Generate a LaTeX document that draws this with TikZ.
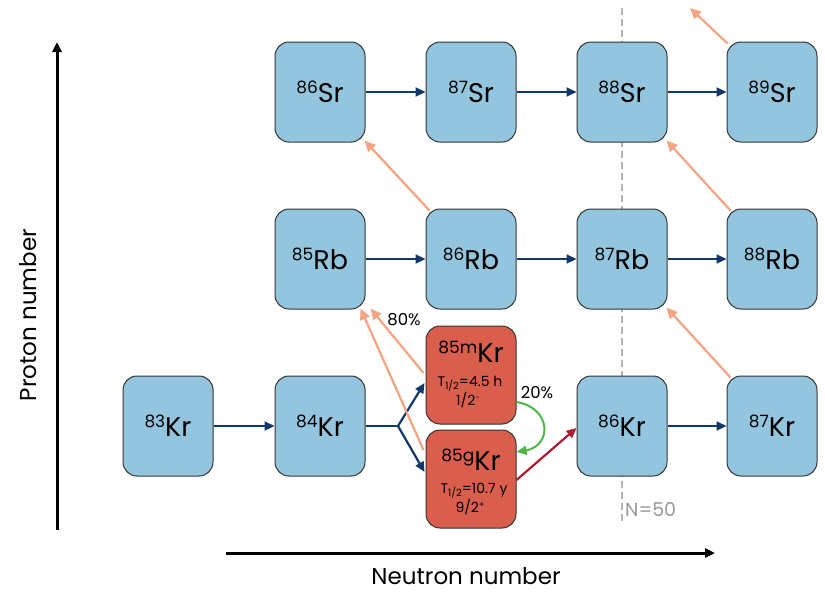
\documentclass[tikz,border=0pt]{standalone}
\usepackage{fontspec}
\setmainfont{Poppins}
\usetikzlibrary{arrows.meta,calc}
\definecolor{boxblue}{HTML}{93C6DE}
\definecolor{boxred}{HTML}{D95E4C}
\definecolor{navy}{HTML}{123769}
\definecolor{salmon}{HTML}{F4A482}
\definecolor{darkred}{HTML}{B01C2E}
\definecolor{grn}{HTML}{4DB848}
\definecolor{edge}{HTML}{333333}
\newcommand{\iso}[2]{{\fontsize{17}{17}\selectfont\raisebox{9pt}{#1}}#2}
\tikzset{
  nuc/.style={draw=edge, line width=1pt, rounded corners=14pt, minimum width=90pt, minimum height=100pt, fill=boxblue, inner sep=0pt, font=\fontsize{27}{29}\selectfont},
  redbox/.style={draw=edge, line width=1pt, rounded corners=14pt, minimum width=90pt, minimum height=98pt, fill=boxred, inner sep=0pt},
  ncap/.style={-{Triangle[length=10pt,width=9pt]}, navy, line width=2.2pt},
  beta/.style={-{Triangle[length=11pt,width=10pt]}, salmon, line width=2.2pt},
  lbl/.style={font=\fontsize{16.5}{18}\selectfont, inner sep=0pt},
  small/.style={font=\fontsize{14}{16}\selectfont, inner sep=0pt},
  axis/.style={-{Triangle[length=10pt,width=9pt]}, black, line width=3pt}
}
\begin{document}
\begin{tikzpicture}[x=1pt,y=-1pt]
\useasboundingbox (0,0) rectangle (825,592);
% N=50 line
\coordinate (ntop) at (622,8);
\coordinate (nbot) at (622,522);
\draw[gray!60, line width=1.2pt, dash pattern=on 7pt off 4pt] (ntop) -- (nbot);
\node[anchor=west, text=gray!80, font=\fontsize{19}{21}\selectfont, inner sep=0pt] (n50) at (625,510) {N=50};
% axes
\coordinate (pa) at (57,530);
\coordinate (pb) at (57,42);
\draw[axis] (pa) -- (pb);
\coordinate (na) at (226,553);
\coordinate (nb) at (715,553);
\draw[axis] (na) -- (nb);
\node[font=\fontsize{23}{25}\selectfont, rotate=90, inner sep=0pt] (plab) at (28,315) {Proton number};
\node[font=\fontsize{23}{25}\selectfont, inner sep=0pt] (nlab) at (466,576) {Neutron number};
% boxes
\node[nuc] (sr86) at (320,92) {\iso{86}{Sr}};
\node[nuc] (sr87) at (471,92) {\iso{87}{Sr}};
\node[nuc] (sr88) at (622,92) {\iso{88}{Sr}};
\node[nuc] (sr89) at (772,92) {\iso{89}{Sr}};
\node[nuc] (rb85) at (320,259) {\iso{85}{Rb}};
\node[nuc] (rb86) at (471,259) {\iso{86}{Rb}};
\node[nuc] (rb87) at (622,259) {\iso{87}{Rb}};
\node[nuc] (rb88) at (772,259) {\iso{88}{Rb}};
\node[nuc] (kr83) at (168,426) {\iso{83}{Kr}};
\node[nuc] (kr84) at (320,426) {\iso{84}{Kr}};
\node[nuc] (kr86) at (622,426) {\iso{86}{Kr}};
\node[nuc] (kr87) at (772,426) {\iso{87}{Kr}};
\node[redbox] (m85) at (471,375) {};
\node[redbox] (g85) at (471,479) {};
\node[inner sep=0pt, font=\fontsize{27}{29}\selectfont] (m85t) at (471,352) {\iso{85m}{Kr}};
\node[small] (m85h) at (470,384) {T\raisebox{-3pt}{\fontsize{10}{10}\selectfont 1/2}=4.5 h};
\node[small] (m85s) at (468,400) {1/2\raisebox{5pt}{\fontsize{8}{8}\selectfont -}};
\node[inner sep=0pt, font=\fontsize{27}{29}\selectfont] (g85t) at (471,460) {\iso{85g}{Kr}};
\node[small] (g85h) at (474,491) {T\raisebox{-3pt}{\fontsize{10}{10}\selectfont 1/2}=10.7 y};
\node[small] (g85s) at (470,507) {9/2\raisebox{5pt}{\fontsize{8}{8}\selectfont +}};
% neutron capture arrows
\draw[ncap] (sr86) -- (sr87);
\draw[ncap] (sr87) -- (sr88);
\draw[ncap] (sr88) -- (sr89);
\draw[ncap] (rb85) -- (rb86);
\draw[ncap] (rb86) -- (rb87);
\draw[ncap] (rb87) -- (rb88);
\draw[ncap] (kr83) -- (kr84);
\draw[ncap] (kr86) -- (kr87);
\coordinate (br) at (398,426);
\draw[navy, line width=2.2pt] (kr84.east) -- (br);
\draw[ncap] (br) -- ($(m85.west)+(-1,8)$);
\draw[ncap] (br) -- ($(g85.west)+(-1,-7)$);
% beta decays
\coordinate (top89) at (690,8);
\draw[beta] ($(sr89.north west)+(1,2)$) -- (top89);
\draw[beta] ($(rb86.north west)+(4,2)$) -- ($(sr86.south east)+(-1,-2)$);
\draw[beta] ($(rb88.north west)+(4,2)$) -- ($(sr88.south east)+(-1,-2)$);
\draw[beta] ($(kr87.north west)+(4,2)$) -- ($(rb87.south east)+(-1,-2)$);
\draw[beta] ($(m85.west)+(-2,-2)$) -- ($(rb85.south east)+(5,-1)$);
\draw[beta] ($(g85.west)+(-2,-29)$) -- ($(rb85.south east)+(-5,-1)$);
\node[lbl] (p80) at (404,320) {80\%};
% isomeric transition
\draw[-{Triangle[length=10pt,width=9pt]}, grn, line width=2pt] ($(m85.east)+(0,27)$) .. controls (552,408) and (552,446) .. ($(g85.east)+(0,-27)$);
\node[lbl] (p20) at (537,393) {20\%};
% beta from ground state
\draw[-{Triangle[length=10pt,width=9pt]}, darkred, line width=2.2pt] ($(g85.east)+(0,1)$) -- ($(kr86.west)+(0,2)$);
\end{tikzpicture}
\end{document}
